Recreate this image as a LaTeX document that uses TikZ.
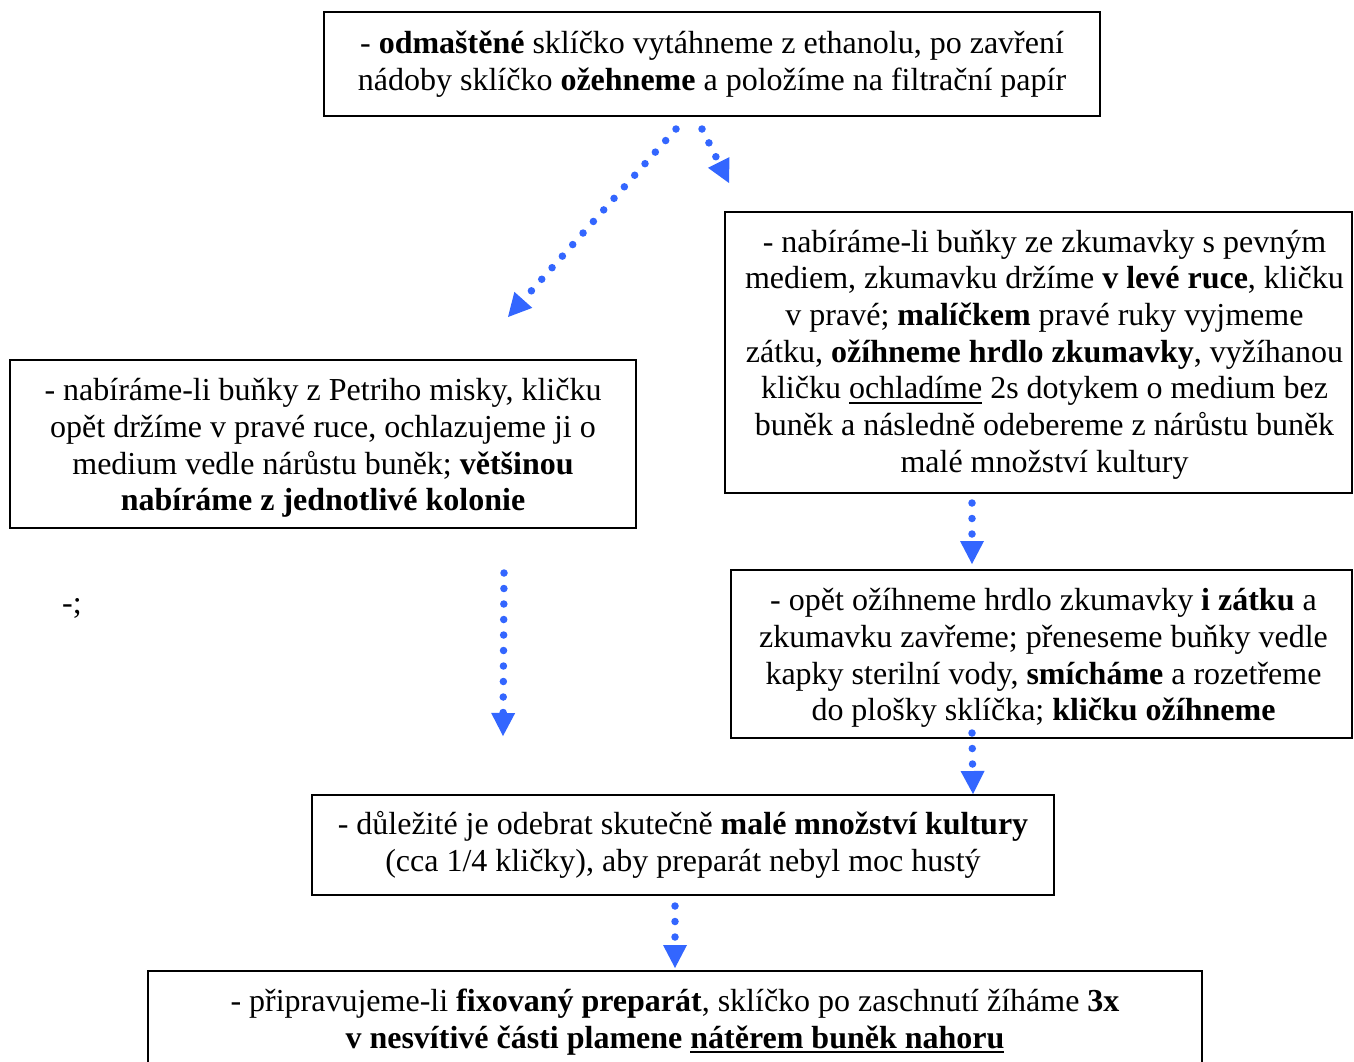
\documentclass[tikz,border=0pt]{standalone}
\usepackage{fontspec}
\setmainfont{Liberation Serif}
\usetikzlibrary{arrows.meta,calc}
\definecolor{arrowblue}{RGB}{51,102,255}
\newcommand\myul[2][1.6pt]{\leavevmode\setbox0\hbox{#2}\rlap{\rule[-5pt]{\wd0}{#1}}\box0\relax}
\begin{document}
\begin{tikzpicture}[x=1pt,y=-1pt,
  box/.style={draw=black, line width=2pt, align=center, inner sep=0pt,
    font=\fontsize{32}{36.7}\selectfont},
  txt/.style={align=center, inner sep=0pt, font=\fontsize{32}{36.7}\selectfont},
  lbl/.style={inner sep=0pt, font=\fontsize{32}{36.7}\selectfont},
  conn/.style={draw=arrowblue, line width=7.5pt, line cap=round,
    dash pattern=on 0pt off 15.5pt,
    -{Triangle[length=23pt,width=24pt,line width=0pt,fill=arrowblue]}}]
\fill[white] (0,0) rectangle (1354,1061);
\useasboundingbox (0,0) rectangle (1354,1061);

\node[box, minimum width=776pt, minimum height=104pt] (top) at (712,64)
  {- \textbf{odmaštěné} sklíčko vytáhneme z ethanolu, po zavření\\
   nádoby sklíčko \textbf{ožehneme} a položíme na filtrační papír};

\node[box, minimum width=626pt, minimum height=168pt] (left) at (323,444) {};
\node[txt] (lefttext) at ([yshift=-4pt]left.center)
  {- nabíráme-li buňky z Petriho misky, kličku\\
   opět držíme v pravé ruce, ochlazujeme ji o\\
   medium vedle nárůstu buněk; \textbf{většinou}\\
   \textbf{nabíráme z jednotlivé kolonie}};

\node[box, minimum width=627pt, minimum height=281pt] (right1) at (1038.5,352.5) {};
\node[txt] (right1text) at ([xshift=6pt,yshift=-2pt]right1.center)
  {- nabíráme-li buňky ze zkumavky s pevným\\
   mediem, zkumavku držíme \textbf{v levé ruce}, kličku\\
   v pravé; \textbf{malíčkem} pravé ruky vyjmeme\\
   zátku, \textbf{ožíhneme hrdlo zkumavky}, vyžíhanou\\
   kličku \myul{ochladíme} 2s dotykem o medium bez\\
   buněk a následně odebereme z nárůstu buněk\\
   malé množství kultury};

\node[box, minimum width=621pt, minimum height=168pt] (right2) at (1041.5,654) {};
\node[txt] (right2text) at ([xshift=2pt,yshift=-4pt]right2.center)
  {- opět ožíhneme hrdlo zkumavky \textbf{i zátku} a\\
   zkumavku zavřeme; přeneseme buňky vedle\\
   kapky sterilní vody, \textbf{smícháme} a rozetřeme\\
   do plošky sklíčka; \textbf{kličku ožíhneme}};

\node[box, minimum width=742pt, minimum height=100pt] (mid) at (683,845)
  {- důležité je odebrat skutečně \textbf{malé množství kultury}\\
   (cca 1/4 kličky), aby preparát nebyl moc hustý};

\node[box, minimum width=1054pt, minimum height=102pt] (bottom) at (675,1022)
  {- připravujeme-li \textbf{fixovaný preparát}, sklíčko po zaschnutí žíháme \textbf{3x}\\
   \textbf{v nesvítivé části plamene \myul[2.6pt]{nátěrem buněk nahoru}}};

\node[lbl] (dash) at (72,608) {-;};

\draw[conn] ([xshift=-36pt,yshift=-12pt]top.south) -- ([xshift=185pt,yshift=42pt]left.north);
\draw[conn] ([xshift=-10pt,yshift=-12pt]top.south) -- ([xshift=5pt,yshift=28pt]right1.north west);
\draw[conn] ([xshift=181pt,yshift=-44pt]left.south) -- ([xshift=-180pt,yshift=58pt]mid.north);
\draw[conn] ([xshift=-66.5pt,yshift=-9pt]right1.south) -- ([xshift=-69.5pt,yshift=5pt]right2.north);
\draw[conn] ([xshift=-69.5pt,yshift=6pt]right2.south) -- ([xshift=-82pt]mid.north east);
\draw[conn] ([xshift=-8pt,yshift=-10pt]mid.south) -- ([yshift=2pt]bottom.north);
\end{tikzpicture}
\end{document}
